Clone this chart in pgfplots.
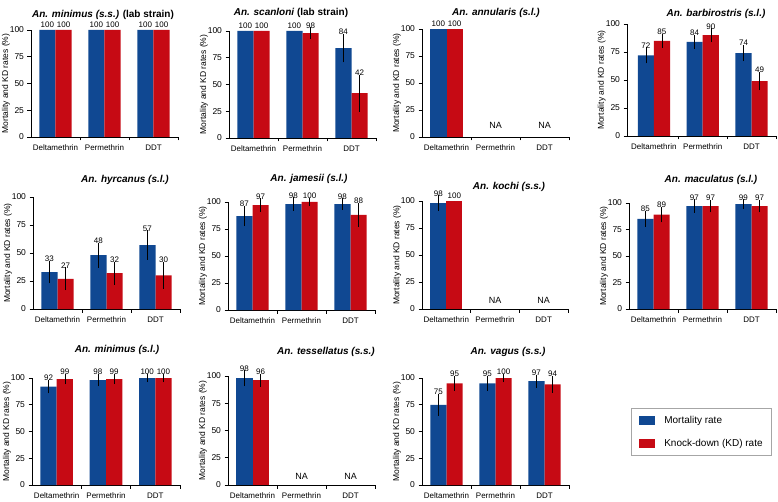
\documentclass[border=0pt]{standalone}
\usepackage{fontspec}
\setmainfont{Liberation Sans}
\usepackage{pgfplots}
\usepackage{pgfplotstable}
\pgfplotsset{compat=1.18}

\definecolor{mblue}{RGB}{16,72,146}
\definecolor{kred}{RGB}{198,10,20}

% x: category, m/me: mortality and its error, k/ke: knock-down and its error
\pgfplotstableread{
x m me k ke
0 100 0 100 0
1 100 0 100 0
2 100 0 100 0
}\tMinLab
\pgfplotstableread{
x m me k ke
0 100 0 100 0
1 100 0 98 2
2 84 10 42 14
}\tScan
\pgfplotstableread{
x m me k ke
0 100 0 100 0
}\tAnnu
\pgfplotstableread{
x m me k ke
0 72 4 85 3
1 84 3 90 3
2 74 4 49 5
}\tBarb
\pgfplotstableread{
x m me k ke
0 33 7 27 7
1 48 8 32 7
2 57 10 30 9
}\tHyrc
\pgfplotstableread{
x m me k ke
0 87 6 97 3
1 98 3 100 0.5
2 98 2 88 8
}\tJame
\pgfplotstableread{
x m me k ke
0 98 4 100 0
}\tKoch
\pgfplotstableread{
x m me k ke
0 85 4 89 4
1 97 3 97 2.5
2 99 1 97 2.5
}\tMacu
\pgfplotstableread{
x m me k ke
0 92 3 99 1.5
1 98 2.5 99 1.5
2 100 0.5 100 0.5
}\tMinSl
\pgfplotstableread{
x m me k ke
0 98 4 96 2.5
}\tTess
\pgfplotstableread{
x m me k ke
0 75 7 95 3.5
1 95 3.5 100 0.5
2 97 3 94 4.5
}\tVagu

\pgfplotsset{
  panel/.style={
    scale only axis, width=147pt, anchor=south west,
    xmin=-0.5, xmax=2.5, ymin=0, ymax=100,
    axis lines=left, axis line style={-, line width=0.6pt, black},
    clip=false,
    xtick={0.5,1.5,2.5}, xticklabels={},
    extra x ticks={0,1,2},
    extra x tick labels={Deltamethrin,Permethrin,DDT},
    extra x tick style={major tick length=0pt},
    xticklabel style={yshift=-4pt, font=\fontsize{8}{9}\selectfont},
    yticklabel style={font=\fontsize{8.5}{9}\selectfont},
    ytick={0,25,50,75,100},
    tick align=outside, major tick length=3.5pt,
    tick style={line width=0.6pt, black},
    /pgf/number format/assume math mode=true,
    ylabel={Mortality and KD rates (\%)},
    ylabel style={font=\fontsize{8.5}{10}\selectfont, at={(axis description cs:-0.17,0.5)}, anchor=center},
  },
  mbar/.style={ybar, bar width=0.33, bar shift=-0.165, fill=mblue, draw=none,
    legend image code/.code={\fill[mblue] (0pt,-4.5pt) rectangle (16pt,4.5pt);}},
  kbar/.style={ybar, bar width=0.33, bar shift=0.165, fill=kred, draw=none,
    legend image code/.code={\fill[kred] (0pt,-4.5pt) rectangle (16pt,4.5pt);}},
  nomark/.style={only marks, mark=*, mark size=0pt, mark options={draw=none, fill=none}},
  errs/.style={nomark, black,
    error bars/.cd, y dir=both, y explicit,
    error bar style={line width=0.55pt, draw=black, solid},
    error mark options={line width=0.55pt, draw=black, mark size=3.5pt},
    /pgfplots/.cd},
  lbls/.style={nomark, point meta=explicit, nodes near coords,
    every node near coord/.append style={font=\fontsize{8}{9}\selectfont, text=black, anchor=south, inner sep=1pt, yshift=1.5pt}},
}

\newcommand\drawpanel[1]{%
  \addplot[mbar] table[x=x, y=m] {#1};
  \addplot[kbar] table[x=x, y=k] {#1};
  \addplot[restrict expr to domain={\thisrow{me}}{0.01:1000}, errs]
    table[x expr=\thisrow{x}-0.165, y=m, y error=me] {#1};
  \addplot[restrict expr to domain={\thisrow{ke}}{0.01:1000}, errs]
    table[x expr=\thisrow{x}+0.165, y=k, y error=ke] {#1};
  \addplot[lbls] table[x expr=\thisrow{x}-0.165, y expr=\thisrow{m}+\thisrow{me}, meta=m] {#1};
  \addplot[lbls] table[x expr=\thisrow{x}+0.165, y expr=\thisrow{k}+\thisrow{ke}, meta=k] {#1};
}

\newcommand\ttl{\fontsize{10}{12}\selectfont\bfseries}

\begin{document}
\begin{tikzpicture}
\path[use as bounding box] (0pt,0pt) rectangle (778pt,-502pt);

% row 1
\begin{axis}[panel, at={(31pt,-137pt)}, height=107pt]
\drawpanel{\tMinLab}
\end{axis}
\begin{axis}[panel, at={(229pt,-138pt)}, height=107pt]
\drawpanel{\tScan}
\end{axis}
\begin{axis}[panel, at={(422pt,-137pt)}, height=108pt]
\drawpanel{\tAnnu}
\node[font=\fontsize{9}{10}\selectfont] at (axis cs:1,11) {NA};
\node[font=\fontsize{9}{10}\selectfont] at (axis cs:2,11) {NA};
\end{axis}
\begin{axis}[panel, at={(627pt,-136pt)}, height=112pt, width=149pt, xmin=-0.55]
\drawpanel{\tBarb}
\end{axis}

% row 2
\begin{axis}[panel, at={(33pt,-309pt)}, height=112pt]
\drawpanel{\tHyrc}
\end{axis}
\begin{axis}[panel, at={(228pt,-310pt)}, height=108pt]
\drawpanel{\tJame}
\end{axis}
\begin{axis}[panel, at={(422pt,-309pt)}, height=108pt, width=146pt]
\drawpanel{\tKoch}
\node[font=\fontsize{9}{10}\selectfont] at (axis cs:1,7.5) {NA};
\node[font=\fontsize{9}{10}\selectfont] at (axis cs:2,7.5) {NA};
\end{axis}
\begin{axis}[panel, at={(629pt,-309pt)}, height=106pt]
\drawpanel{\tMacu}
\end{axis}

% row 3
\begin{axis}[panel, at={(32pt,-485pt)}, height=107pt, width=148pt]
\drawpanel{\tMinSl}
\end{axis}
\begin{axis}[panel, at={(228pt,-485pt)}, height=109pt]
\drawpanel{\tTess}
\node[font=\fontsize{9}{10}\selectfont] at (axis cs:1,7.5) {NA};
\node[font=\fontsize{9}{10}\selectfont] at (axis cs:2,7.5) {NA};
\end{axis}
\begin{axis}[panel, at={(422pt,-485pt)}, height=107pt,
  legend cell align=left,
  legend style={at={(axis description cs:1.422,0.72)}, anchor=north west,
    draw=gray!70, line width=0.5pt, font=\fontsize{10}{12}\selectfont,
    inner xsep=8pt, inner ysep=7pt, row sep=12pt,
    nodes={inner sep=1pt},
    /tikz/every odd column/.append style={column sep=8pt}}]
\drawpanel{\tVagu}
\legend{Mortality rate, Knock-down (KD) rate}
\end{axis}

% panel titles
\node[font=\ttl] at (103pt,-15pt) {\itshape An. minimus (s.s.)\upshape{} (lab strain)};
\node[font=\ttl] at (291pt,-13pt) {\itshape An. scanloni\upshape{} (lab strain)};
\node[font=\ttl] at (496pt,-13pt) {\itshape An. annularis (s.l.)};
\node[font=\ttl] at (716pt,-14pt) {\itshape An. barbirostris (s.l.)};
\node[font=\ttl] at (125pt,-180pt) {\itshape An. hyrcanus (s.l.)};
\node[font=\ttl] at (309pt,-179pt) {\itshape An. jamesii (s.l.)};
\node[font=\ttl] at (509pt,-187pt) {\itshape An. kochi (s.s.)};
\node[font=\ttl] at (711pt,-180pt) {\itshape An. maculatus (s.l.)};
\node[font=\ttl] at (117pt,-350pt) {\itshape An. minimus (s.l.)};
\node[font=\ttl] at (326pt,-352pt) {\itshape An. tessellatus (s.s.)};
\node[font=\ttl] at (508pt,-352pt) {\itshape An. vagus (s.s.)};
\end{tikzpicture}
\end{document}
